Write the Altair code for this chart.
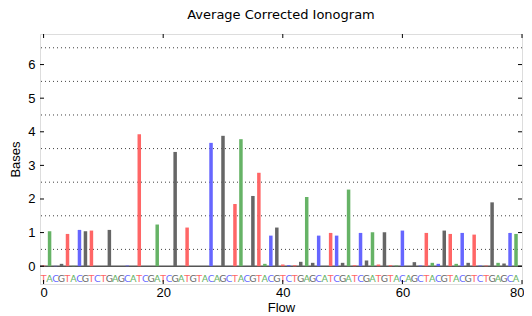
import altair as alt
import pandas as pd

flow_order = list("TACGTACGTCTGAGCATCGATCGATGTACAGCTACGTACGTCTGAGCATCGATCGATGTACAGCTACGTACGTCTGAGCA")
flow_values = [
    0.02, 1.04, 0.01, 0.07, 0.96, 0.01, 1.08, 1.04, 1.06, 0.00,
    0.00, 1.08, 0.00, 0.00, 0.02, 0.00, 3.93, 0.00, 0.00, 1.24,
    0.00, 0.00, 3.40, 0.00, 1.15, 0.00, 0.00, 0.00, 3.67, 0.00,
    3.88, 0.00, 1.85, 3.78, 0.00, 2.09, 2.78, 0.07, 0.91, 1.15,
    0.05, 0.03, 0.03, 0.13, 2.06, 0.10, 0.91, 0.00, 0.99, 0.91,
    0.10, 2.28, 0.03, 0.99, 0.17, 1.01, 0.05, 1.01, 0.03, 0.02,
    1.06, 0.00, 0.12, 0.02, 0.99, 0.10, 0.07, 1.06, 0.96, 0.07,
    0.99, 0.10, 0.94, 0.02, 0.02, 1.90, 0.10, 0.08, 0.99, 0.96,
]
bases = ["T", "A", "C", "G"]
base_colors = ["#ff6666", "#66b366", "#6666ff", "#666666"]
x_ticks = [0, 20, 40, 60, 80]
y_ticks = [0, 1, 2, 3, 4, 5, 6]
grid_levels = [0.5, 1.5, 2.5, 3.5, 4.5, 5.5, 6.5]

W, H = 482, 250
x_dom = [-0.6, 80.0]
y_dom = [-0.53, 6.91]

df = pd.DataFrame({"flow": list(range(len(flow_order))), "base": flow_order, "value": flow_values})
df_grid = pd.DataFrame({"g": grid_levels})
df_xt = pd.DataFrame({"t": x_ticks})
df_yt = pd.DataFrame({"t": y_ticks})

xs = alt.Scale(domain=x_dom, nice=False, zero=False, padding=0)
ys = alt.Scale(domain=y_dom, nice=False, zero=False, padding=0)
cs = alt.Scale(domain=bases, range=base_colors)

x_axis = alt.Axis(values=x_ticks, tickSize=0, domain=False, grid=False, labelPadding=2,
                  labelFontSize=13, titleFontSize=13, titlePadding=2, labelColor="black",
                  titleColor="black", titleFontWeight="normal", labelFlush=False,
                  labelAlign={"condition": {"test": "datum.value == 80", "value": "right"}, "value": "center"},
                  labelOffset={"condition": {"test": "datum.value == 80", "value": 2}, "value": 0})
y_axis = alt.Axis(values=y_ticks, tickSize=0, domain=False, grid=False, labelPadding=5,
                  labelFontSize=13, titleFontSize=13, titlePadding=5, labelColor="black",
                  titleColor="black", titleFontWeight="normal")

grid = alt.Chart(df_grid).mark_rule(color="black", strokeWidth=1, strokeDash=[1, 3], opacity=0.75).encode(
    y=alt.Y("g:Q", scale=ys, axis=y_axis, title="Bases"))

zero = alt.Chart(df_yt).transform_filter("datum.t == 0").mark_rule(color="#555555", strokeWidth=1.5).encode(
    y=alt.Y("t:Q", scale=ys))

bars = alt.Chart(df).mark_bar(size=3.5, opacity=1).encode(
    x=alt.X("flow:Q", scale=xs, axis=x_axis, title="Flow"),
    y=alt.Y("value:Q", scale=ys),
    y2=alt.datum(0),
    color=alt.Color("base:N", scale=cs, legend=None),
)

letters = alt.Chart(df).mark_text(fontSize=9.5, font="DejaVu Sans", opacity=1).encode(
    x=alt.X("flow:Q", scale=xs),
    y=alt.datum(-0.37),
    text="base:N",
    color=alt.Color("base:N", scale=cs, legend=None),
)

tick_l = alt.Chart(df_yt).mark_rule(color="black").encode(
    y=alt.Y("t:Q", scale=ys), x=alt.value(0), x2=alt.value(4))
tick_r = alt.Chart(df_yt).mark_rule(color="black").encode(
    y=alt.Y("t:Q", scale=ys), x=alt.value(W - 4), x2=alt.value(W))
tick_t = alt.Chart(df_xt).mark_rule(color="black").encode(
    x=alt.X("t:Q", scale=xs), y=alt.value(0), y2=alt.value(4))
tick_b = alt.Chart(df_xt).mark_rule(color="black").encode(
    x=alt.X("t:Q", scale=xs), y=alt.value(H - 4), y2=alt.value(H))

chart = alt.layer(grid, zero, bars, letters, tick_l, tick_r, tick_t, tick_b).properties(
    width=W, height=H,
    title=alt.Title("Average Corrected Ionogram", fontSize=13, fontWeight="normal",
                    font="DejaVu Sans", offset=12, color="black"),
    autosize=alt.AutoSizeParams(type="none"),
    padding={"left": 32, "top": 26, "right": 2, "bottom": 32},
).configure_view(stroke="black", strokeWidth=1).configure_axis(
    labelFont="DejaVu Sans", titleFont="DejaVu Sans"
).configure(background="white")

chart.save("out.html", embed_options={"renderer": "svg", "actions": False})
